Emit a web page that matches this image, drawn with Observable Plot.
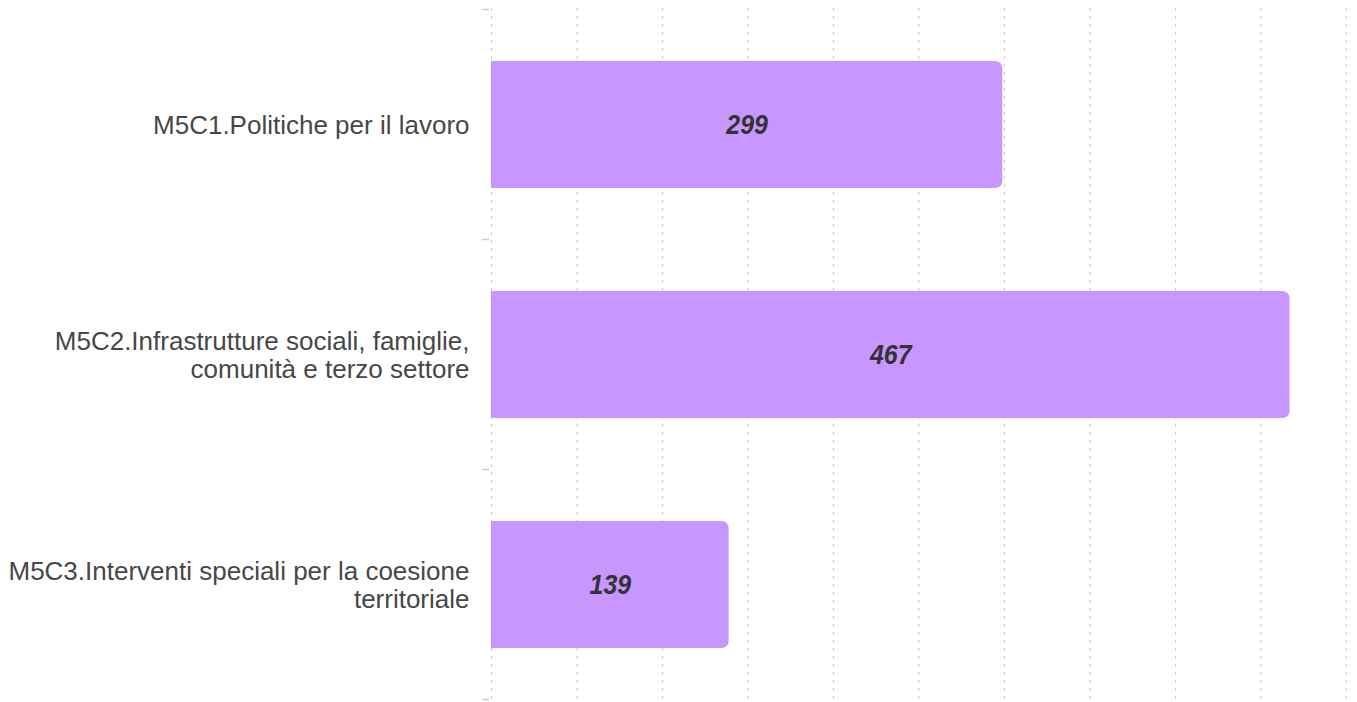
<!DOCTYPE html>
<html>
<head>
<meta charset="utf-8">
<script src="https://cdn.jsdelivr.net/npm/d3@7"></script>
<script src="https://cdn.jsdelivr.net/npm/@observablehq/plot@0.6"></script>
<style>
  html, body { margin: 0; padding: 0; background: #fff; }
  #chart { width: 1357px; height: 702px; }
</style>
</head>
<body>
<div id="chart"></div>
<script>
const categories = [
  "M5C1.Politiche per il lavoro",
  "M5C2.Infrastrutture sociali, famiglie,\ncomunità e terzo settore",
  "M5C3.Interventi speciali per la coesione\nterritoriale"
];
const values = [299, 467, 139];
const xTicks = [0, 50, 100, 150, 200, 250, 300, 350, 400, 450, 500];

const data = categories.map((c, i) => ({cat: c, value: values[i]}));

const barColor = "#c896ff";

// small tick marks at band boundaries, positioned using the y band scale
function boundaryTicks(index, scales, values, dims) {
  const y = scales.y;
  const bw = y.bandwidth ? y.bandwidth() : 0;
  const pos = categories.map(c => y(c));
  const step = pos.length > 1 ? pos[1] - pos[0] : bw;
  const gap = (step - bw) / 2;
  const ys = pos.map(p => p - gap);
  ys.push(pos[pos.length - 1] + bw + gap);
  const g = document.createElementNS("http://www.w3.org/2000/svg", "g");
  for (const yy of ys) {
    const l = document.createElementNS("http://www.w3.org/2000/svg", "line");
    l.setAttribute("x1", dims.marginLeft - 9);
    l.setAttribute("x2", dims.marginLeft - 2);
    l.setAttribute("y1", yy);
    l.setAttribute("y2", yy);
    l.setAttribute("stroke", "#cccccc");
    l.setAttribute("stroke-width", 1.5);
    g.appendChild(l);
  }
  return g;
}

// horizontally condense the value labels
function condense(index, scales, values, dims, context, next) {
  const g = next(index, scales, values, dims, context);
  if (g) {
    g.querySelectorAll("text").forEach(t => {
      const tr = t.getAttribute("transform");
      if (tr) {
        t.setAttribute("transform", tr + " scale(0.89,1)");
      } else {
        const x = +t.getAttribute("x") || 0, y = +t.getAttribute("y") || 0;
        t.removeAttribute("x"); t.removeAttribute("y");
        t.setAttribute("transform", `translate(${x},${y}) scale(0.89,1)`);
      }
    });
  }
  return g;
}

const chart = Plot.plot({
  width: 1357,
  height: 702,
  marginLeft: 491,
  marginRight: 11,
  marginTop: 8,
  marginBottom: 2,
  style: {fontFamily: "'Liberation Sans', Arial, sans-serif", background: "#fff", overflow: "visible"},
  x: {domain: [0, 500], axis: null},
  y: {domain: categories, paddingInner: 0.45, paddingOuter: 0.225, axis: null},
  marks: [
    Plot.ruleX(xTicks, {stroke: "#d0d0d0", strokeWidth: 1.2, strokeDasharray: "3,5", insetBottom: -2}),
    Plot.axisY({label: null, tickSize: 0, tickPadding: 22, fontSize: 26, lineHeight: 1.08, fill: "#474747", textAnchor: "end"}),
    boundaryTicks,
    Plot.barX(data, {x: "value", y: "cat", fill: barColor, rx: 7}),
    Plot.barX(data, {x: "value", y: "cat", fill: barColor, insetRight: 12}),
    Plot.text(data, Plot.stackX({x: "value", y: "cat", text: "value", fill: "#333", fontSize: 28, fontWeight: "bold", fontStyle: "italic", render: condense}))
  ]
});
document.getElementById("chart").appendChild(chart);
</script>
</body>
</html>
